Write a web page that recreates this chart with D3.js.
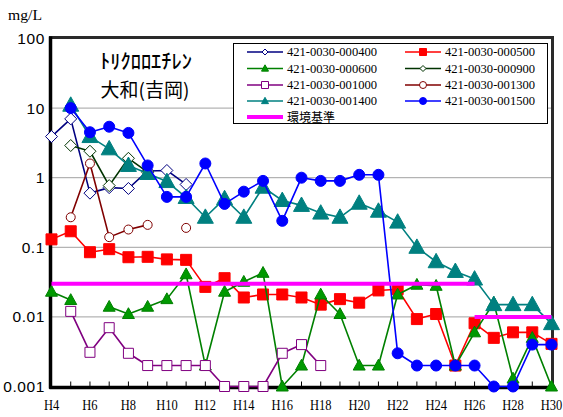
<!DOCTYPE html>
<html><head><meta charset="utf-8">
<script src="https://cdn.jsdelivr.net/npm/d3@7"></script>
<style>
html,body{margin:0;padding:0;background:#fff;}
svg{display:block;}
</style>
</head><body>
<svg id="c" width="563" height="417"></svg>
<script>
const years = ["H4","H5","H6","H7","H8","H9","H10","H11","H12","H13","H14","H15","H16","H17","H18","H19","H20","H21","H22","H23","H24","H25","H26","H27","H28","H29","H30"];
const xTickLabels = ["H4","H6","H8","H10","H12","H14","H16","H18","H20","H22","H24","H26","H28","H30"];
const yTickValues = [0.001, 0.01, 0.1, 1, 10, 100];
const yTickLabels = ["0.001","0.01","0.1","1","10","100"];
const seriesNames = ["421-0030-000400","421-0030-000500","421-0030-000600","421-0030-000900","421-0030-001000","421-0030-001300","421-0030-001400","421-0030-001500"];
const standardName = "環境基準";

const s000400 = [3.9, 7, 0.6, 0.72, 0.7, 1.25, 1.27, 0.8, null, null, null, null, null, null, null, null, null, null, null, null, null, null, null, null, null, null, null];
const s000500 = [0.13, 0.17, 0.085, 0.094, 0.072, 0.073, 0.067, 0.066, 0.027, 0.036, 0.019, 0.021, 0.021, 0.019, 0.015, 0.018, 0.016, 0.024, 0.025, 0.0093, 0.011, 0.002, 0.0081, 0.005, 0.006, 0.006, 0.0041];
const s000600 = [0.023, 0.0175, null, 0.014, 0.011, 0.014, 0.018, 0.041, 0.002, 0.023, 0.032, 0.043, 0.001, 0.002, 0.021, 0.011, 0.002, 0.002, 0.021, 0.029, 0.028, 0.002, 0.006, 0.016, 0.0013, 0.005, 0.001];
const s000900 = [null, 2.9, 2.4, 0.77, 1.9, 1.2, null, null, null, null, null, null, null, null, null, null, null, null, null, null, null, null, null, null, null, null, null];
const s001000 = [null, 0.012, 0.0031, 0.007, 0.003, 0.002, 0.002, 0.002, 0.002, 0.001, 0.001, 0.001, 0.003, 0.004, 0.002, null, null, null, null, null, null, null, null, null, null, null, null];
const s001300 = [null, 0.27, 1.6, 0.14, 0.18, 0.21, null, 0.19, null, null, null, null, null, null, null, null, null, null, null, null, null, null, null, null, null, null, null];
const s001400 = [null, 11, 3.9, 2.6, 1.5, 1.15, 0.88, 0.52, 0.27, 0.5, 0.27, 0.73, 0.47, 0.4, 0.31, 0.27, 0.43, 0.33, 0.23, 0.1, 0.062, 0.045, 0.035, 0.015, 0.015, 0.015, 0.008];
const s001500 = [null, 10, 4.5, 5.4, 4.4, 1.5, 0.53, 0.53, 1.6, 0.42, 0.63, 0.9, 0.24, 1.0, 0.9, 0.9, 1.1, 1.1, 0.003, 0.002, 0.002, 0.002, 0.002, 0.001, 0.001, 0.004, 0.004];
const stdOld = [0.03, 0.03, 0.03, 0.03, 0.03, 0.03, 0.03, 0.03, 0.03, 0.03, 0.03, 0.03, 0.03, 0.03, 0.03, 0.03, 0.03, 0.03, 0.03, 0.03, 0.03, 0.03, 0.03, null, null, null, null];
const stdNew = [null, null, null, null, null, null, null, null, null, null, null, null, null, null, null, null, null, null, null, null, null, null, 0.01, 0.01, 0.01, 0.01, 0.01];

const seriesData = [s000400, s000500, s000600, s000900, s001000, s001300, s001400, s001500];

const styles = [
  {color:"#000080", marker:"diamond", size:6, fill:"#fff", lsize:3},
  {color:"#FF0000", marker:"square", size:5.5, fill:"#FF0000", lsize:3.5},
  {color:"#008000", marker:"triangle", size:6, fill:"#009900", lsize:3.5},
  {color:"#003300", marker:"diamond", size:6, fill:"#fff", lsize:3},
  {color:"#800080", marker:"square", size:5, fill:"#fff", lsize:3.5},
  {color:"#800000", marker:"circle", size:4.5, fill:"#fff", lsize:3.5},
  {color:"#008080", marker:"triangle", size:8, fill:"#008080", lsize:3.5},
  {color:"#0000FF", marker:"circle", size:5.5, fill:"#0000FF", lsize:3.5}
];

function markerPath(type, r){
  if(type==="diamond") return `M0,${-r}L${r},0L0,${r}L${-r},0Z`;
  if(type==="square") return `M${-r},${-r}H${r}V${r}H${-r}Z`;
  if(type==="triangle") return `M0,${-r*1.05}L${r},${r*0.75}L${-r},${r*0.75}Z`;
  return null;
}

const svg = d3.select("#c");
const pLeft = 51.5, pRight = 551.5, pTop = 38.5, pBottom = 386.5;

const x = d3.scalePoint().domain(years).range([pLeft, pRight]).padding(0);
const y = d3.scaleLog().domain([0.001, 100]).range([pBottom, pTop]);

svg.append("g").selectAll("line").data(yTickValues.filter(v => v > 0.001 && v < 100)).join("line")
  .attr("x1", pLeft).attr("x2", pRight)
  .attr("y1", d => y(d)).attr("y2", d => y(d))
  .attr("stroke", "#444").attr("stroke-width", 1).attr("stroke-dasharray", "1,1");

svg.append("g").selectAll("line").data(years).join("line")
  .attr("x1", d => x(d)).attr("x2", d => x(d))
  .attr("y1", pBottom).attr("y2", pBottom - 5)
  .attr("stroke", "#000").attr("stroke-width", 1);

svg.append("rect").attr("x", pLeft - 1).attr("y", pTop - 1).attr("width", pRight - pLeft + 2).attr("height", pBottom - pTop + 2)
  .attr("fill", "none").attr("stroke", "#2a2a2a").attr("stroke-width", 3);
svg.append("line").attr("x1", pLeft - 1).attr("x2", pLeft - 1).attr("y1", pTop - 2).attr("y2", pBottom + 2).attr("stroke", "#000").attr("stroke-width", 3.5);
svg.append("line").attr("x1", pLeft - 2).attr("x2", pRight + 2).attr("y1", pBottom + 1).attr("y2", pBottom + 1).attr("stroke", "#000").attr("stroke-width", 3.5);

svg.append("g").selectAll("text").data(yTickValues).join("text")
  .attr("x", 45).attr("y", d => y(d)).attr("dy", "0.36em")
  .attr("text-anchor", "end")
  .attr("font-family", "Liberation Sans, Arial, sans-serif")
  .attr("font-size", 15.5)
  .attr("letter-spacing", "0.6px")
  .text((d, i) => yTickLabels[i]);

svg.append("g").selectAll("text").data(xTickLabels).join("text")
  .attr("transform", d => `translate(${x(d)},410) scale(1,1.25)`)
  .attr("text-anchor", "middle")
  .attr("font-family", "Liberation Serif, serif")
  .attr("font-size", 12.5)
  .text(d => d);

svg.append("text").attr("x", 8).attr("y", 20)
  .attr("font-family", "Liberation Serif, serif").attr("font-size", 15)
  .attr("textLength", 34).attr("lengthAdjust", "spacingAndGlyphs")
  .text("mg/L");

svg.append("text").attr("x", 146).attr("y", 69).attr("text-anchor", "middle")
  .attr("font-family", "Noto Sans CJK JP, sans-serif").attr("font-size", 20).attr("font-weight", 500)
  .attr("textLength", 92).attr("lengthAdjust", "spacingAndGlyphs")
  .text("ﾄﾘｸﾛﾛｴﾁﾚﾝ");
svg.append("text").attr("x", 145).attr("y", 97).attr("text-anchor", "middle")
  .attr("font-family", "Noto Sans CJK JP, sans-serif").attr("font-size", 19)
  .text("大和(吉岡)");

const line = d3.line().defined(d => d.v != null).x(d => x(d.k)).y(d => y(d.v));
const plot = svg.append("g");
seriesData.forEach((arr, i) => {
  const st = styles[i];
  const pts = arr.map((v, j) => ({k: years[j], v}));
  const g = plot.append("g");
  g.append("path").datum(pts).attr("d", line).attr("fill", "none")
    .attr("stroke", st.color).attr("stroke-width", 1.6).attr("stroke-linejoin", "round");
  const valid = pts.filter(d => d.v != null);
  if (st.marker === "circle") {
    g.selectAll("circle").data(valid).join("circle")
      .attr("cx", d => x(d.k)).attr("cy", d => y(d.v)).attr("r", st.size)
      .attr("fill", st.fill).attr("stroke", st.color).attr("stroke-width", 1);
  } else {
    g.selectAll("path.m").data(valid).join("path").attr("class", "m")
      .attr("transform", d => `translate(${x(d.k)},${y(d.v)})`)
      .attr("d", markerPath(st.marker, st.size))
      .attr("fill", st.fill).attr("stroke", st.color).attr("stroke-width", 1);
  }
});

[stdOld, stdNew].forEach(arr => {
  const pts = arr.map((v, j) => ({k: years[j], v}));
  plot.append("path").datum(pts).attr("d", line).attr("fill", "none")
    .attr("stroke", "#FF00FF").attr("stroke-width", 4);
});

const lg = svg.append("g");
lg.append("rect").attr("x", 233.5).attr("y", 43.5).attr("width", 314).attr("height", 80)
  .attr("fill", "#fff").attr("stroke", "#000").attr("stroke-width", 1);
const colX = [247, 405];
const rowY = [52, 68.5, 85, 101, 117];
seriesNames.forEach((name, i) => {
  const st = styles[i];
  const cx = colX[i % 2], cy = rowY[Math.floor(i / 2)];
  const item = lg.append("g");
  item.append("line").attr("x1", cx).attr("x2", cx + 36).attr("y1", cy).attr("y2", cy)
    .attr("stroke", st.color).attr("stroke-width", 1.6);
  if (st.marker === "circle") {
    item.append("circle").attr("cx", cx + 18).attr("cy", cy).attr("r", st.lsize)
      .attr("fill", st.fill).attr("stroke", st.color);
  } else {
    item.append("path").attr("transform", `translate(${cx + 18},${cy})`)
      .attr("d", markerPath(st.marker, st.lsize)).attr("fill", st.fill).attr("stroke", st.color);
  }
  item.append("text").attr("x", cx + 40).attr("y", cy).attr("dy", "0.35em")
    .attr("font-family", "Liberation Serif, serif").attr("font-size", 12.5)
    .attr("textLength", 90).attr("lengthAdjust", "spacingAndGlyphs")
    .text(name);
});
lg.append("line").attr("x1", colX[0]).attr("x2", colX[0] + 36).attr("y1", rowY[4]).attr("y2", rowY[4])
  .attr("stroke", "#FF00FF").attr("stroke-width", 4);
lg.append("text").attr("x", colX[0] + 40).attr("y", rowY[4] + 0.5).attr("dy", "0.36em")
  .attr("font-family", "Noto Sans CJK JP, sans-serif").attr("font-size", 12)
  .text(standardName);
</script>
</body></html>
